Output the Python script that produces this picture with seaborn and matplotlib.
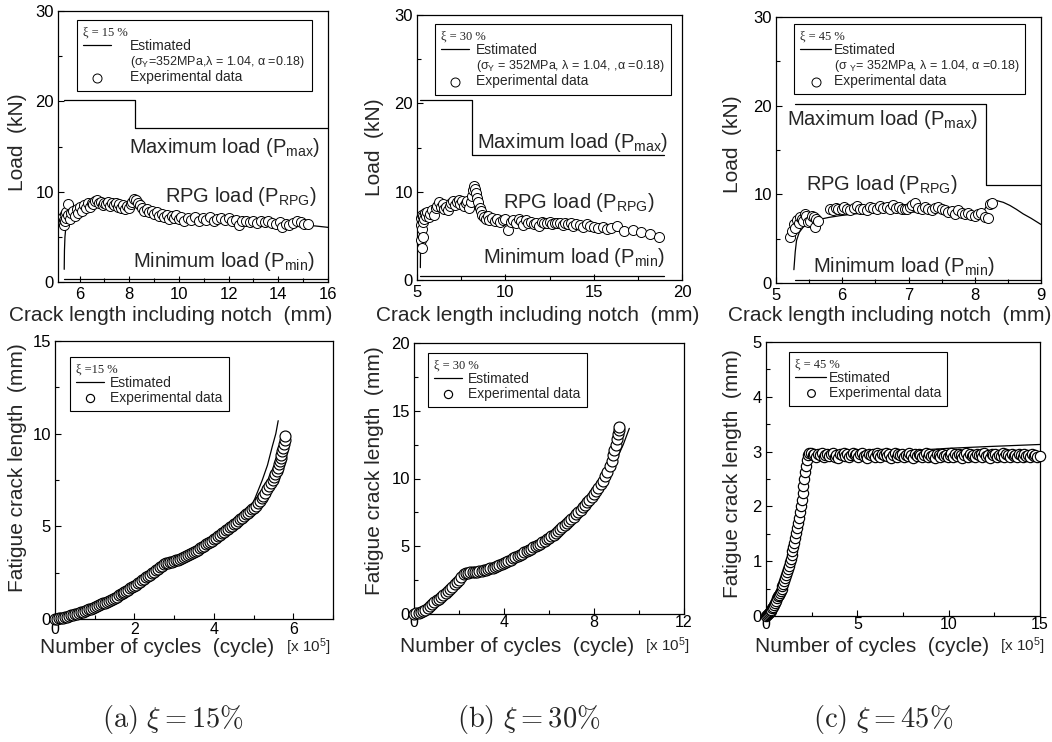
import numpy as np
import matplotlib
matplotlib.use("Agg")
import matplotlib.pyplot as plt
import seaborn as sns
from matplotlib.lines import Line2D
from matplotlib.ticker import MultipleLocator

# ---------------- top row: load vs crack length ----------------
# xi = 15 %
load15_exp = np.array([
    [5.33, 6.6], [5.35, 7.2], [5.36, 6.3], [5.38, 6.9], [5.40, 7.5], [5.42, 6.8],
    [5.44, 7.8], [5.46, 7.1], [5.52, 8.6], [5.55, 7.4], [5.60, 7.0], [5.66, 7.6],
    [5.72, 7.9], [5.80, 7.3], [5.88, 8.1], [5.95, 7.6], [6.02, 8.3], [6.10, 7.9],
    [6.18, 8.5], [6.25, 8.2], [6.33, 8.7], [6.40, 8.3], [6.48, 8.8], [6.55, 8.6],
    [6.62, 9.0], [6.70, 9.1], [6.78, 8.7], [6.85, 8.9], [6.93, 8.5], [7.00, 8.8],
    [7.08, 8.6], [7.15, 8.9], [7.23, 8.4], [7.30, 8.7], [7.38, 8.5], [7.45, 8.8],
    [7.53, 8.3], [7.60, 8.6], [7.68, 8.2], [7.75, 8.5], [7.83, 8.1], [7.90, 8.4],
    [7.98, 8.2], [8.05, 8.6], [8.12, 8.9], [8.20, 9.2], [8.28, 9.1], [8.35, 8.8],
    [8.42, 8.5], [8.50, 8.2], [8.60, 7.9], [8.70, 8.1], [8.80, 7.7], [8.90, 7.9],
    [9.00, 7.5], [9.10, 7.7], [9.20, 7.3], [9.30, 7.5], [9.40, 7.2], [9.50, 7.4],
    [9.60, 7.0], [9.70, 7.3], [9.80, 7.1], [9.90, 7.4], [10.00, 7.0], [10.10, 7.2],
    [10.20, 6.8], [10.35, 7.1], [10.50, 6.9], [10.65, 7.2], [10.80, 6.8], [10.95, 7.1],
    [11.10, 6.9], [11.25, 7.2], [11.40, 6.8], [11.55, 7.0], [11.70, 7.1], [11.85, 6.9],
    [12.00, 7.1], [12.15, 6.8], [12.30, 6.9], [12.40, 6.3], [12.55, 6.8], [12.70, 6.7],
    [12.85, 6.6], [13.00, 6.8], [13.15, 6.5], [13.30, 6.7], [13.45, 6.6], [13.60, 6.8],
    [13.75, 6.5], [13.90, 6.4], [14.05, 6.6], [14.15, 6.1], [14.30, 6.4], [14.45, 6.3],
    [14.60, 6.5], [14.75, 6.7], [14.90, 6.6], [15.05, 6.4], [15.20, 6.4],
])
load15_est_x = [5.38, 5.39, 5.41, 5.44, 5.50, 5.60, 5.75, 6.0, 6.5, 7.0, 7.5, 8.0,
                8.2, 8.4, 8.8, 9.5, 10.5, 11.5, 12.5, 13.5, 14.5, 15.5, 16.0]
load15_est_y = [1.4, 3.5, 5.0, 5.9, 6.6, 7.1, 7.5, 7.9, 8.4, 8.6, 8.5, 8.3,
                8.5, 8.6, 8.1, 7.5, 7.1, 6.9, 6.8, 6.6, 6.4, 6.2, 6.05]
pmax15_x = [5.38, 8.22, 8.22, 16.0]
pmax15_y = [20.2, 20.2, 17.1, 17.1]
pmin15_x = [5.38, 16.0]
pmin15_y = [0.35, 0.35]

# xi = 30 %
load30_exp = np.array([
    [5.20, 6.2], [5.22, 4.5], [5.24, 7.0], [5.26, 5.8], [5.28, 3.6], [5.30, 7.4],
    [5.32, 6.6], [5.34, 4.9], [5.36, 7.2], [5.40, 6.9], [5.45, 7.6], [5.50, 7.3],
    [5.58, 7.7], [5.66, 7.1], [5.75, 7.5], [5.85, 7.9], [5.95, 7.4], [6.05, 8.1],
    [6.15, 8.4], [6.25, 8.8], [6.35, 8.3], [6.45, 8.6], [6.55, 8.0], [6.65, 8.3],
    [6.75, 7.9], [6.85, 8.4], [6.95, 8.7], [7.05, 8.9], [7.15, 8.5], [7.25, 8.8],
    [7.35, 9.1], [7.45, 8.6], [7.55, 8.9], [7.65, 8.4], [7.75, 8.7], [7.85, 8.9],
    [7.95, 8.2], [8.05, 8.8], [8.12, 9.5], [8.18, 10.2], [8.25, 10.6], [8.30, 10.3],
    [8.35, 9.8], [8.40, 9.3], [8.48, 8.8], [8.55, 8.2], [8.62, 7.8], [8.70, 7.4],
    [8.80, 7.1], [8.90, 6.9], [9.00, 7.2], [9.10, 6.8], [9.25, 7.0], [9.40, 6.7],
    [9.55, 6.9], [9.70, 6.6], [9.85, 6.8], [10.00, 6.9], [10.15, 5.7], [10.30, 6.6],
    [10.45, 6.8], [10.60, 6.5], [10.75, 6.9], [10.90, 6.7], [11.00, 6.2], [11.15, 6.8],
    [11.30, 6.5], [11.45, 6.6], [11.60, 6.3], [11.75, 6.5], [11.90, 6.1], [12.05, 6.6],
    [12.20, 6.4], [12.35, 6.5], [12.50, 6.6], [12.65, 6.3], [12.80, 6.5], [12.95, 6.4],
    [13.10, 6.5], [13.25, 6.2], [13.40, 6.4], [13.55, 6.3], [13.70, 6.4], [13.85, 6.1],
    [14.00, 6.3], [14.20, 6.2], [14.40, 6.0], [14.60, 6.3], [14.80, 6.1], [15.00, 6.0],
    [15.25, 5.9], [15.50, 6.0], [15.75, 5.8], [16.00, 5.9], [16.30, 6.1], [16.70, 5.6],
    [17.20, 5.7], [17.70, 5.4], [18.20, 5.2], [18.70, 4.9],
])
load30_est_x = [5.19, 5.20, 5.22, 5.26, 5.35, 5.5, 5.8, 6.2, 6.8, 7.5, 8.1, 8.3,
                8.6, 9.0, 10.0, 11.0, 12.0, 13.0, 14.0, 15.0, 16.0, 17.0, 18.0, 18.9]
load30_est_y = [1.4, 3.5, 5.2, 6.2, 6.8, 7.1, 7.6, 8.0, 8.3, 8.5, 8.7, 9.6,
                8.2, 7.0, 6.7, 6.5, 6.4, 6.3, 6.2, 6.0, 5.8, 5.5, 5.2, 4.8]
pmax30_x = [5.19, 8.12, 8.12, 18.96]
pmax30_y = [20.4, 20.4, 14.2, 14.2]
pmin30_x = [5.19, 18.96]
pmin30_y = [0.45, 0.45]

# xi = 45 %
load45_exp = np.array([
    [5.21, 5.2], [5.24, 5.9], [5.27, 6.7], [5.29, 6.2], [5.31, 7.1], [5.34, 6.8],
    [5.36, 7.4], [5.39, 7.2], [5.41, 7.0], [5.44, 7.8], [5.46, 7.5], [5.49, 6.9],
    [5.51, 7.0], [5.54, 7.6], [5.57, 7.4], [5.59, 6.3], [5.61, 7.2], [5.63, 7.0],
    [5.82, 8.4], [5.86, 8.2], [5.90, 8.5], [5.94, 8.4], [5.99, 8.3], [6.03, 8.6],
    [6.07, 8.4], [6.12, 8.2], [6.17, 8.5], [6.22, 8.7], [6.27, 8.3], [6.32, 8.4],
    [6.37, 8.2], [6.42, 8.6], [6.47, 8.5], [6.52, 8.3], [6.57, 8.7], [6.62, 8.5],
    [6.67, 8.6], [6.72, 8.3], [6.77, 8.8], [6.81, 8.5], [6.85, 8.6], [6.90, 8.4],
    [6.94, 8.3], [6.97, 8.3], [7.02, 8.6], [7.06, 8.8], [7.10, 9.0], [7.15, 8.5],
    [7.20, 8.3], [7.25, 8.6], [7.30, 8.4], [7.35, 8.2], [7.40, 8.5], [7.45, 8.6],
    [7.50, 8.3], [7.55, 8.2], [7.60, 8.0], [7.65, 8.1], [7.70, 7.8], [7.75, 8.2],
    [7.80, 7.9], [7.85, 7.8], [7.90, 7.9], [7.95, 7.7], [8.00, 7.6], [8.05, 7.8],
    [8.10, 7.9], [8.15, 7.4], [8.20, 7.3], [8.23, 8.9], [8.26, 9.0],
])
load45_est_x = [5.27, 5.29, 5.31, 5.35, 5.41, 5.5, 5.61, 5.8, 5.97, 6.2, 6.47, 6.97,
                7.48, 8.08, 8.15, 8.2, 8.26, 8.33, 8.43, 8.53, 8.63, 8.73, 8.85, 9.0]
load45_est_y = [1.5, 3.5, 4.8, 5.7, 6.3, 6.8, 7.1, 7.4, 7.6, 7.8, 8.0, 8.0,
                8.0, 8.0, 8.3, 9.0, 9.2, 9.3, 9.1, 8.75, 8.3, 7.8, 7.3, 6.6]
pmax45_x = [5.29, 8.17, 8.17, 9.0]
pmax45_y = [20.2, 20.2, 11.1, 11.1]
pmin45_x = [5.29, 9.0]
pmin45_y = [0.3, 0.3]

# ---------------- bottom row: crack length vs cycles (x 10^5) ----------------
crack15_exp = np.array([
    [0.00, 0.00], [0.05, 0.02], [0.10, 0.04], [0.15, 0.06], [0.20, 0.08], [0.25, 0.10],
    [0.30, 0.13], [0.35, 0.16], [0.40, 0.19], [0.45, 0.22], [0.50, 0.25], [0.55, 0.29],
    [0.60, 0.32], [0.65, 0.36], [0.70, 0.40], [0.75, 0.44], [0.80, 0.47], [0.85, 0.52],
    [0.90, 0.56], [0.95, 0.60], [1.00, 0.65], [1.05, 0.70], [1.10, 0.74], [1.15, 0.79],
    [1.20, 0.84], [1.25, 0.89], [1.30, 0.94], [1.35, 0.99], [1.40, 1.05], [1.45, 1.10],
    [1.50, 1.16], [1.55, 1.21], [1.60, 1.27], [1.65, 1.33], [1.70, 1.39], [1.75, 1.46],
    [1.80, 1.52], [1.85, 1.58], [1.90, 1.65], [1.95, 1.71], [2.00, 1.78], [2.05, 1.85],
    [2.10, 1.93], [2.15, 2.00], [2.20, 2.08], [2.25, 2.16], [2.30, 2.24], [2.35, 2.32],
    [2.40, 2.40], [2.45, 2.48], [2.50, 2.56], [2.55, 2.64], [2.60, 2.72], [2.65, 2.80],
    [2.70, 2.88], [2.75, 2.95], [2.80, 3.00], [2.85, 3.03], [2.90, 3.06], [2.95, 3.09],
    [3.00, 3.12], [3.05, 3.16], [3.10, 3.20], [3.15, 3.25], [3.20, 3.30], [3.25, 3.35],
    [3.30, 3.40], [3.35, 3.46], [3.40, 3.51], [3.45, 3.57], [3.50, 3.63], [3.55, 3.69],
    [3.60, 3.75], [3.65, 3.81], [3.70, 3.88], [3.75, 3.95], [3.80, 4.02], [3.85, 4.09],
    [3.90, 4.16], [3.95, 4.23], [4.00, 4.31], [4.05, 4.38], [4.10, 4.46], [4.15, 4.54],
    [4.20, 4.62], [4.25, 4.70], [4.30, 4.78], [4.35, 4.87], [4.40, 4.95], [4.45, 5.03],
    [4.50, 5.12], [4.55, 5.20], [4.60, 5.29], [4.65, 5.38], [4.70, 5.47], [4.75, 5.56],
    [4.80, 5.65], [4.85, 5.74], [4.90, 5.83], [4.95, 5.92], [5.00, 6.01], [5.05, 6.12],
    [5.10, 6.24], [5.15, 6.37], [5.20, 6.51], [5.25, 6.66], [5.30, 6.82], [5.35, 6.99],
    [5.40, 7.17], [5.44, 7.33], [5.48, 7.50], [5.52, 7.68], [5.55, 7.83], [5.58, 7.99],
    [5.61, 8.16], [5.64, 8.34], [5.66, 8.50], [5.68, 8.67], [5.70, 8.85], [5.72, 9.04],
    [5.74, 9.24], [5.76, 9.44], [5.78, 9.66], [5.80, 9.90],
])
crack15_est_x = [0, 0.5, 1.0, 1.5, 2.0, 2.5, 2.75, 2.9, 3.05, 3.5, 4.0, 4.5, 4.8,
                 5.0, 5.22, 5.35, 5.47, 5.56, 5.62]
crack15_est_y = [0, 0.27, 0.70, 1.20, 1.82, 2.58, 2.95, 3.06, 3.15, 3.66, 4.40, 5.25,
                 5.85, 6.32, 7.5, 8.3, 9.3, 10.0, 10.7]

crack30_exp = np.array([
    [0.0, 0.00], [0.1, 0.04], [0.2, 0.09], [0.3, 0.15], [0.4, 0.23], [0.5, 0.32],
    [0.6, 0.43], [0.7, 0.56], [0.8, 0.71], [0.9, 0.87], [1.0, 1.01], [1.1, 1.11],
    [1.2, 1.22], [1.3, 1.38], [1.4, 1.55], [1.5, 1.71], [1.6, 1.86], [1.7, 2.01],
    [1.8, 2.18], [1.9, 2.35], [2.0, 2.53], [2.1, 2.72], [2.2, 2.92], [2.3, 3.02],
    [2.4, 3.05], [2.5, 3.07], [2.6, 3.09], [2.7, 3.10], [2.8, 3.13], [2.9, 3.15],
    [3.0, 3.18], [3.1, 3.22], [3.2, 3.26], [3.3, 3.31], [3.4, 3.36], [3.5, 3.42],
    [3.6, 3.48], [3.7, 3.55], [3.8, 3.62], [3.9, 3.70], [4.0, 3.78], [4.1, 3.86],
    [4.2, 3.94], [4.3, 4.02], [4.4, 4.11], [4.5, 4.19], [4.6, 4.28], [4.7, 4.37],
    [4.8, 4.46], [4.9, 4.55], [5.0, 4.64], [5.1, 4.73], [5.2, 4.82], [5.3, 4.91],
    [5.4, 5.01], [5.5, 5.10], [5.6, 5.20], [5.7, 5.30], [5.8, 5.40], [5.9, 5.50],
    [6.0, 5.61], [6.1, 5.72], [6.2, 5.84], [6.3, 5.97], [6.4, 6.10], [6.5, 6.24],
    [6.6, 6.39], [6.7, 6.55], [6.8, 6.71], [6.9, 6.87], [7.0, 7.02], [7.1, 7.19],
    [7.2, 7.35], [7.3, 7.51], [7.4, 7.68], [7.5, 7.86], [7.6, 8.04], [7.7, 8.23],
    [7.8, 8.43], [7.9, 8.63], [8.0, 8.84], [8.1, 9.06], [8.2, 9.30], [8.3, 9.56],
    [8.4, 9.84], [8.5, 10.15], [8.6, 10.50], [8.7, 10.92], [8.78, 11.30], [8.85, 11.70],
    [8.91, 12.10], [8.96, 12.50], [9.01, 12.90], [9.05, 13.25], [9.09, 13.55],
    [9.12, 13.80],
])
crack30_est_x = [0, 0.6, 1.2, 1.8, 2.2, 2.5, 3.0, 4.0, 5.0, 6.0, 7.0, 8.0, 8.5, 9.0,
                 9.3, 9.57]
crack30_est_y = [0, 0.45, 1.25, 2.2, 2.95, 3.05, 3.18, 3.8, 4.62, 5.6, 6.9, 8.6, 9.8,
                 11.4, 12.5, 13.7]

crack45_exp = np.array([
    [0.00, 0.00], [0.05, 0.01], [0.10, 0.03], [0.15, 0.05], [0.20, 0.07], [0.25, 0.09],
    [0.30, 0.11], [0.35, 0.14], [0.40, 0.17], [0.45, 0.20], [0.50, 0.24], [0.55, 0.28],
    [0.60, 0.32], [0.65, 0.36], [0.70, 0.39], [0.75, 0.42], [0.80, 0.45], [0.85, 0.50],
    [0.90, 0.54], [0.95, 0.59], [1.00, 0.64], [1.05, 0.69], [1.10, 0.75], [1.15, 0.80],
    [1.20, 0.86], [1.25, 0.92], [1.30, 0.98], [1.35, 1.04], [1.40, 1.11], [1.45, 1.18],
    [1.50, 1.26], [1.55, 1.34], [1.60, 1.42], [1.65, 1.51], [1.70, 1.60], [1.75, 1.69],
    [1.80, 1.79], [1.85, 1.89], [1.90, 2.00], [1.95, 2.12], [2.00, 2.25], [2.05, 2.38],
    [2.10, 2.50], [2.15, 2.62], [2.20, 2.74], [2.25, 2.85], [2.30, 2.94], [2.35, 2.98],
    [2.45, 2.97], [2.55, 2.94], [2.65, 2.96], [2.75, 2.91], [2.85, 2.95], [2.95, 2.93],
    [3.05, 2.97], [3.15, 2.90], [3.25, 2.94], [3.35, 2.96], [3.45, 2.92], [3.55, 2.95],
    [3.65, 2.98], [3.75, 2.91], [3.85, 2.94], [3.95, 2.89], [4.05, 2.96], [4.15, 2.93],
    [4.25, 2.97], [4.35, 2.92], [4.45, 2.95], [4.55, 2.90], [4.65, 2.94], [4.75, 2.97],
    [4.85, 2.93], [4.95, 2.96], [5.05, 2.91], [5.15, 2.95], [5.25, 2.98], [5.35, 2.92],
    [5.45, 2.94], [5.55, 2.89], [5.65, 2.96], [5.75, 2.93], [5.85, 2.95], [5.95, 2.91],
    [6.05, 2.97], [6.15, 2.94], [6.25, 2.90], [6.35, 2.96], [6.45, 2.93], [6.55, 2.98],
    [6.65, 2.92], [6.75, 2.95], [6.85, 2.88], [6.95, 2.94], [7.05, 2.97], [7.15, 2.91],
    [7.25, 2.95], [7.35, 2.93], [7.45, 2.96], [7.55, 2.90], [7.65, 2.94], [7.75, 2.92],
    [7.85, 2.97], [7.95, 2.93], [8.05, 2.89], [8.15, 2.95], [8.25, 2.92], [8.35, 2.96],
    [8.45, 2.94], [8.55, 2.90], [8.65, 2.93], [8.75, 2.97], [8.85, 2.91], [8.95, 2.95],
    [9.05, 2.92], [9.15, 2.94], [9.25, 2.89], [9.35, 2.96], [9.45, 2.93], [9.55, 2.90],
    [9.65, 2.95], [9.75, 2.92], [9.85, 2.94], [9.95, 2.91], [10.05, 2.93], [10.15, 2.97],
    [10.25, 2.90], [10.35, 2.95], [10.45, 2.92], [10.55, 2.96], [10.65, 2.94], [10.75, 2.89],
    [10.85, 2.93], [10.95, 2.97], [11.05, 2.91], [11.15, 2.95], [11.25, 2.92], [11.35, 2.94],
    [11.45, 2.90], [11.55, 2.96], [11.65, 2.93], [11.75, 2.95], [11.85, 2.91], [11.95, 2.97],
    [12.05, 2.92], [12.15, 2.94], [12.25, 2.88], [12.35, 2.95], [12.45, 2.93], [12.55, 2.96],
    [12.65, 2.91], [12.75, 2.94], [12.85, 2.92], [12.95, 2.97], [13.05, 2.90], [13.15, 2.95],
    [13.25, 2.93], [13.35, 2.91], [13.45, 2.96], [13.55, 2.92], [13.65, 2.94], [13.75, 2.90],
    [13.85, 2.95], [13.95, 2.93], [14.05, 2.91], [14.15, 2.96], [14.25, 2.92], [14.35, 2.94],
    [14.45, 2.90], [14.55, 2.95], [14.65, 2.92], [14.75, 2.93], [14.85, 2.91], [15.00, 2.92],
])
crack45_est_x = [0, 0.4, 0.8, 1.2, 1.6, 2.0, 2.2, 2.4, 2.6, 5.0, 8.0, 10.0, 12.0, 15.0]
crack45_est_y = [0, 0.18, 0.47, 0.88, 1.42, 2.25, 2.7, 2.92, 2.93, 2.97, 3.02, 3.06,
                 3.09, 3.13]

sigma_notes = [r"(σ$_\mathrm{Y}$=352MPa,λ = 1.04, α =0.18)",
               r"(σ$_\mathrm{Y}$ = 352MPa, λ = 1.04, ,α =0.18)",
               r"(σ $_\mathrm{Y}$= 352MPa, λ = 1.04, α =0.18)"]
xi_titles_top = ["ξ = 15 %", "ξ = 30 %", "ξ = 45 %"]
xi_titles_bot = ["ξ =15 %", "ξ = 30 %", "ξ = 45 %"]
captions = [r"$\mathrm{(a)}\ \xi = 15\%$", r"$\mathrm{(b)}\ \xi = 30\%$",
            r"$\mathrm{(c)}\ \xi = 45\%$"]

# ---------------- style ----------------
sns.set_style("ticks")
plt.rcParams.update({
    "font.family": ["Liberation Sans", "DejaVu Sans"],
    "mathtext.fontset": "custom",
    "mathtext.rm": "Liberation Sans",
    "mathtext.it": "Liberation Sans:italic",
    "mathtext.bf": "Liberation Sans:bold",
    "xtick.direction": "in",
    "ytick.direction": "in",
    "xtick.major.size": 4, "ytick.major.size": 4,
    "xtick.minor.size": 3, "ytick.minor.size": 3,
    "xtick.major.width": 0.8, "ytick.major.width": 0.8,
    "xtick.minor.width": 0.8, "ytick.minor.width": 0.8,
    "axes.linewidth": 0.9,
    "axes.edgecolor": "black",
    "xtick.color": "black", "ytick.color": "black",
    "xtick.labelsize": 12, "ytick.labelsize": 12,
})

W, H = 1052, 742
fig = plt.figure(figsize=(W / 100, H / 100), dpi=100)


def px_axes(x0, y0, x1, y1):
    return fig.add_axes([x0 / W, 1 - y1 / H, (x1 - x0) / W, (y1 - y0) / H])


def add_legend(ax, title, note, anchor, hlen, htp, mscale, fs=10):
    handles, labels = ax.get_legend_handles_labels()
    lookup = dict(zip(labels, handles))
    hs = [lookup["Estimated"]]
    ls = ["Estimated"]
    if note:
        hs.append(Line2D([], [], linestyle="none"))
        ls.append(note)
    hs.append(lookup["Experimental data"])
    ls.append("Experimental data")
    leg = ax.legend(hs, ls, title=title, loc="upper left", bbox_to_anchor=anchor,
                    borderaxespad=0, frameon=True, fancybox=False, edgecolor="black",
                    framealpha=1, fontsize=fs, alignment="left",
                    title_fontproperties={"family": "Liberation Serif", "size": 9},
                    handlelength=hlen, handletextpad=htp, labelspacing=0.05,
                    borderpad=0.45, markerscale=mscale, scatterpoints=1)
    leg.get_frame().set_linewidth(0.8)
    if note:
        leg.get_texts()[1].set_fontsize(9)
    return leg


def draw_points(ax, arr, est_x, est_y, size, edge_lw=0.7):
    sns.lineplot(x=est_x, y=est_y, ax=ax, color="black", linewidth=0.9, sort=False,
                 estimator=None, label="Estimated")
    sns.scatterplot(x=arr[:, 0], y=arr[:, 1], ax=ax, s=size, color="white",
                    edgecolor="black", linewidth=edge_lw, label="Experimental data",
                    clip_on=False, zorder=3)


# ---------------- top row ----------------
top_boxes = [(58, 11, 328, 282), (417, 15, 682, 280), (776, 17, 1041, 283)]
top_data = [
    (load15_exp, load15_est_x, load15_est_y, pmax15_x, pmax15_y, pmin15_x, pmin15_y),
    (load30_exp, load30_est_x, load30_est_y, pmax30_x, pmax30_y, pmin30_x, pmin30_y),
    (load45_exp, load45_est_x, load45_est_y, pmax45_x, pmax45_y, pmin45_x, pmin45_y),
]
top_xlim = [(5.13, 16), (5, 20), (5, 9)]
top_xticks = [[6, 8, 10, 12, 14, 16], [5, 10, 15, 20], [5, 6, 7, 8, 9]]
top_xminor = [1, 2.5, 0.5]
top_legend_pos = [(0.070, 0.967), (0.068, 0.966), (0.068, 0.974)]
top_legend_fmt = [(2.0, 1.4), (2.0, 0.5), (2.2, 0.2)]
# (right x, baseline y) in axes fraction for the three load labels
top_label_pos = [
    [(0.970, 0.476), (0.959, 0.295), (0.952, 0.055)],
    [(0.947, 0.498), (0.898, 0.272), (0.936, 0.064)],
    [(0.762, 0.594), (0.687, 0.350), (0.826, 0.041)],
]
top_xlabel_pos = [(0.419, -0.089), (0.455, -0.098), (0.430, -0.086)]
top_ylabel_pos = [(-0.115, 0.515), (-0.125, 0.50), (-0.128, 0.52)]
load_labels = [r"Maximum load (P$_{\mathrm{max}}$)", r"RPG load (P$_{\mathrm{RPG}}$)",
               r"Minimum load (P$_{\mathrm{min}}$)"]

for i in range(3):
    ax = px_axes(*top_boxes[i])
    exp, ex, ey, mx, my, nx, ny = top_data[i]
    sns.lineplot(x=mx, y=my, ax=ax, color="black", linewidth=0.9, sort=False,
                 estimator=None, legend=False)
    sns.lineplot(x=nx, y=ny, ax=ax, color="black", linewidth=0.9, sort=False,
                 estimator=None, legend=False)
    draw_points(ax, exp, ex, ey, 52)
    ax.set_xlim(*top_xlim[i])
    ax.set_ylim(0, 30)
    ax.set_xticks(top_xticks[i])
    ax.set_yticks([0, 10, 20, 30])
    ax.xaxis.set_minor_locator(MultipleLocator(top_xminor[i]))
    ax.yaxis.set_minor_locator(MultipleLocator(5))
    ax.tick_params(which="both", top=False, right=False)
    ax.tick_params(axis="x", pad=3.5)
    ax.tick_params(axis="y", pad=3)
    for (tx, ty), txt in zip(top_label_pos[i], load_labels):
        ax.text(tx, ty, txt, transform=ax.transAxes, ha="right", va="baseline",
                fontsize=14.5)
    ax.set_xlabel("Crack length including notch  (mm)", fontsize=15)
    ax.set_ylabel("Load  (kN)", fontsize=15)
    ax.xaxis.set_label_coords(*top_xlabel_pos[i])
    ax.yaxis.set_label_coords(*top_ylabel_pos[i])
    hl, ht = top_legend_fmt[i]
    add_legend(ax, xi_titles_top[i], sigma_notes[i], top_legend_pos[i], hl, ht, 0.9)

# ---------------- bottom row ----------------
bot_boxes = [(55, 341, 333, 619), (414, 343, 684, 614), (766, 342, 1040, 616)]
bot_data = [(crack15_exp, crack15_est_x, crack15_est_y),
            (crack30_exp, crack30_est_x, crack30_est_y),
            (crack45_exp, crack45_est_x, crack45_est_y)]
bot_xlim = [(0, 7), (0, 12), (0, 15)]
bot_xticks = [[0, 2, 4, 6], [0, 4, 8, 12], [0, 5, 10, 15]]
bot_xminor = [1, 2, 2.5]
bot_ylim = [(0, 15), (0, 20), (0, 5)]
bot_yticks = [[0, 5, 10, 15], [0, 5, 10, 15, 20], [0, 1, 2, 3, 4, 5]]
bot_yminor = [2.5, 2.5, 0.5]
bot_sizes = [62, 62, 55]
bot_xpad = [2.5, 1, 1]
bot_legend_pos = [(0.054, 0.942), (0.052, 0.963), (0.084, 0.964)]
bot_legend_fmt = [(2.0, 0.45), (2.0, 0.45), (2.2, 0.2)]
bot_xlabel_pos = [(0.367, -0.068), (0.383, -0.085), (0.387, -0.077)]
bot_unit_pos = [(0.91, -0.062), (0.937, -0.080), (0.934, -0.072)]
bot_ylabel_pos = [(-0.10, 0.543), (-0.111, 0.53), (-0.088, 0.52)]

for i in range(3):
    ax = px_axes(*bot_boxes[i])
    exp, ex, ey = bot_data[i]
    draw_points(ax, exp, ex, ey, bot_sizes[i], edge_lw=0.85)
    ax.set_xlim(*bot_xlim[i])
    ax.set_ylim(*bot_ylim[i])
    ax.set_xticks(bot_xticks[i])
    ax.set_yticks(bot_yticks[i])
    ax.xaxis.set_minor_locator(MultipleLocator(bot_xminor[i]))
    ax.yaxis.set_minor_locator(MultipleLocator(bot_yminor[i]))
    ax.tick_params(which="both", top=False, right=False)
    ax.tick_params(axis="x", pad=bot_xpad[i], labelsize=11.5)
    ax.tick_params(axis="y", pad=3)
    ax.set_xlabel("Number of cycles  (cycle)", fontsize=15)
    ax.set_ylabel("Fatigue crack length  (mm)", fontsize=15)
    ax.xaxis.set_label_coords(*bot_xlabel_pos[i])
    ax.yaxis.set_label_coords(*bot_ylabel_pos[i])
    ax.text(*bot_unit_pos[i], r"[x 10$^5$]", transform=ax.transAxes, ha="center",
            va="top", fontsize=11)
    hl, ht = bot_legend_fmt[i]
    add_legend(ax, xi_titles_bot[i], None, bot_legend_pos[i], hl, ht, 0.75)

# ---------------- captions ----------------
for cx, cap in zip([173, 529, 883], captions):
    fig.text(cx / W, 1 - 720 / H, cap, ha="center", va="center", fontsize=20.5,
             math_fontfamily="cm")

fig.savefig("out.png", dpi=100)
